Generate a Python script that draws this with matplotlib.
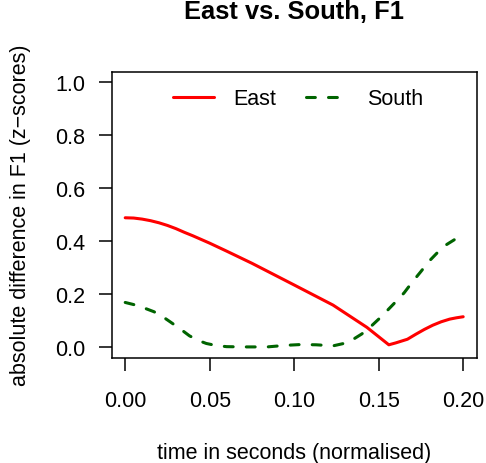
import matplotlib
matplotlib.use("Agg")
import matplotlib.pyplot as plt

# data
east_t = [0.000, 0.005, 0.010, 0.015, 0.020, 0.025, 0.030, 0.035, 0.040, 0.050, 0.060, 0.075,
          0.100, 0.123, 0.143, 0.156, 0.160, 0.167, 0.172, 0.177, 0.182, 0.187, 0.192, 0.196, 0.200]
east_v = [0.488, 0.487, 0.483, 0.477, 0.469, 0.459, 0.447, 0.433, 0.420, 0.392, 0.362, 0.316,
          0.234, 0.158, 0.074, 0.008, 0.015, 0.029, 0.048, 0.066, 0.082, 0.095, 0.105, 0.110, 0.114]

south_t = [0.000, 0.005, 0.010, 0.017, 0.022, 0.027, 0.033, 0.038, 0.043, 0.048, 0.054, 0.060,
           0.070, 0.084, 0.095, 0.104, 0.113, 0.123, 0.130, 0.135, 0.140, 0.145, 0.150, 0.155,
           0.160, 0.165, 0.170, 0.175, 0.180, 0.185, 0.190, 0.195]
south_v = [0.168, 0.160, 0.150, 0.133, 0.115, 0.093, 0.066, 0.042, 0.025, 0.013, 0.005, 0.001,
           0.000, 0.000, 0.006, 0.009, 0.008, 0.004, 0.014, 0.029, 0.049, 0.075, 0.105, 0.137,
           0.170, 0.204, 0.246, 0.285, 0.325, 0.358, 0.386, 0.406]

xticks = [0.00, 0.05, 0.10, 0.15, 0.20]
xtick_labels = ["0.00", "0.05", "0.10", "0.15", "0.20"]
yticks = [0.0, 0.2, 0.4, 0.6, 0.8, 1.0]
ytick_labels = ["0.0", "0.2", "0.4", "0.6", "0.8", "1.0"]

plt.rcParams['font.family'] = ['Liberation Sans', 'DejaVu Sans']

W, H = 486, 464
fig = plt.figure(figsize=(W / 100, H / 100), dpi=100)
L, R, T, B = 111.7, 476.7, 72.7, 358.5
ax = fig.add_axes([L / W, (H - B) / H, (R - L) / W, (B - T) / H])

ax.plot(east_t, east_v, color='#FF0000', lw=2.2, label='East',
        solid_capstyle='round', solid_joinstyle='round')
ax.plot(south_t, south_v, color='#006400', lw=2.2, dashes=(2.9, 4.3), label='South',
        dash_capstyle='round', dash_joinstyle='round')

ax.set_xlim(-0.008, 0.208)
ax.set_ylim(-0.04, 1.04)
ax.set_xticks(xticks)
ax.set_xticklabels(xtick_labels)
ax.set_yticks(yticks)
ax.set_yticklabels(ytick_labels)

for s in ax.spines.values():
    s.set_linewidth(1.1)
    s.set_color('black')
ax.tick_params(axis='both', direction='out', length=9.4, width=1.1, labelsize=15.5, colors='black')
ax.tick_params(axis='x', pad=14)
ax.tick_params(axis='y', pad=9.6)

ax.set_xlabel('time in seconds (normalised)', fontsize=15.5)
ax.xaxis.set_label_coords(0.5, -0.331)
ax.xaxis.label.set_va('center')
ax.set_ylabel('absolute difference in F1 (z\u2212scores)', fontsize=15.5)
ax.yaxis.set_label_coords(-0.2485, 0.5)
ax.yaxis.label.set_va('center')

ax.set_title('East vs. South, F1', fontsize=18.4, fontweight='bold', y=1.184, va='center')

ax.legend(loc='center', bbox_to_anchor=(0.5096, 0.906), ncol=2, frameon=False,
          fontsize=15.5, handlelength=1.9, handletextpad=0.93, columnspacing=1.36,
          borderpad=0, borderaxespad=0)

fig.savefig('out.png', dpi=100)
